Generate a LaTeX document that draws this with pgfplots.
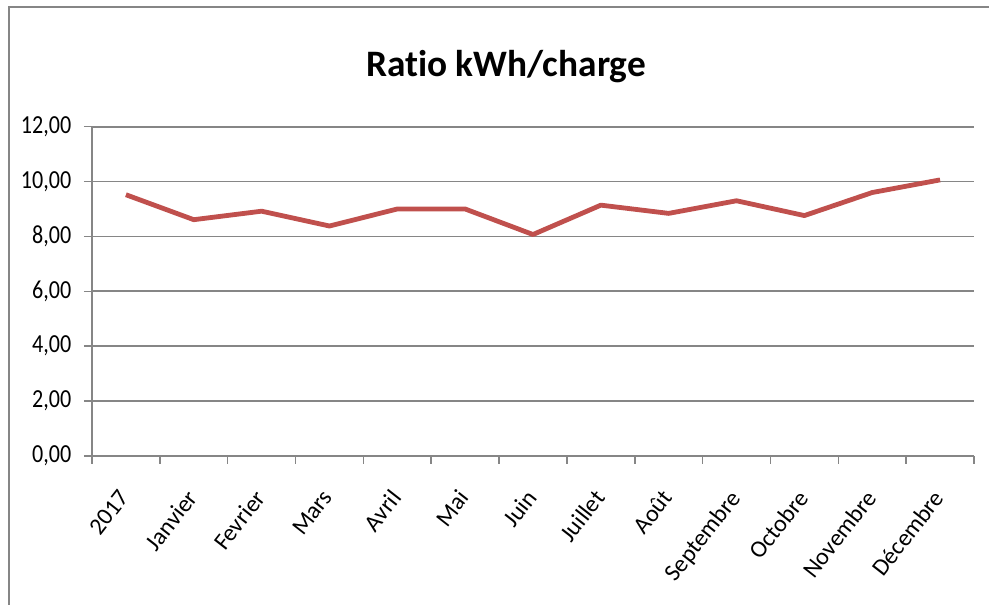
\documentclass[border=0pt]{standalone}
\usepackage{pgfplots}
\pgfplotsset{compat=1.18}
\usepackage{fontspec}
\setmainfont{Carlito}[Ligatures=NoCommon]
\newfontfamily\tickfont{Carlito}[FakeStretch=0.85]
\definecolor{gridgray}{HTML}{868686}
\definecolor{linered}{HTML}{C0504D}
\begin{document}
\begin{tikzpicture}
\useasboundingbox (-69pt,-111.75pt) rectangle (672.75pt,342pt);
\draw[line width=1.5pt, color=gridgray] (-61.9pt,-120pt) -- (-61.9pt,336.75pt) -- (680pt,336.75pt);
\begin{axis}[
  scale only axis, width=661.5pt, height=247pt,
  xmin=0, xmax=13, ymin=0, ymax=12,
  axis lines=left,
  axis line style={-, draw=gridgray, line width=1.3pt},
  ymajorgrids, grid style={draw=gridgray, line width=1.3pt},
  ytick={0,2,...,12},
  tick align=outside, major tick length=6pt,
  tick style={draw=gridgray, line width=1.2pt},
  xtick={0,1,...,13}, xticklabels={},
  extra x ticks={0.5,1.5,...,12.5},
  extra x tick labels={2017,Janvier,Fevrier,Mars,Avril,Mai,Juin,Juillet,Août,Septembre,Octobre,Novembre,Décembre},
  extra x tick style={major tick length=0pt, grid=none},
  x tick label style={xshift=-6pt, yshift=-24pt, rotate=52, anchor=north east, inner sep=0pt, font=\fontsize{18}{20}\selectfont},
  y tick label style={font=\tickfont\fontsize{19.5}{22}\selectfont, xshift=-6pt},
  /pgf/number format/.cd, fixed, fixed zerofill, precision=2, use comma, assume math mode=true,
]
\addplot[linered, line width=3.6pt, line join=round] coordinates {
  (0.5,9.52) (1.5,8.61) (2.5,8.92) (3.5,8.38) (4.5,9.00) (5.5,9.00) (6.5,8.07)
  (7.5,9.14) (8.5,8.84) (9.5,9.30) (10.5,8.76) (11.5,9.60) (12.5,10.06)
};
\end{axis}
\node[font=\bfseries\fontsize{28}{30}\selectfont, anchor=base] at (310.5pt,284.25pt) {Ratio kWh/charge};
\end{tikzpicture}
\end{document}
